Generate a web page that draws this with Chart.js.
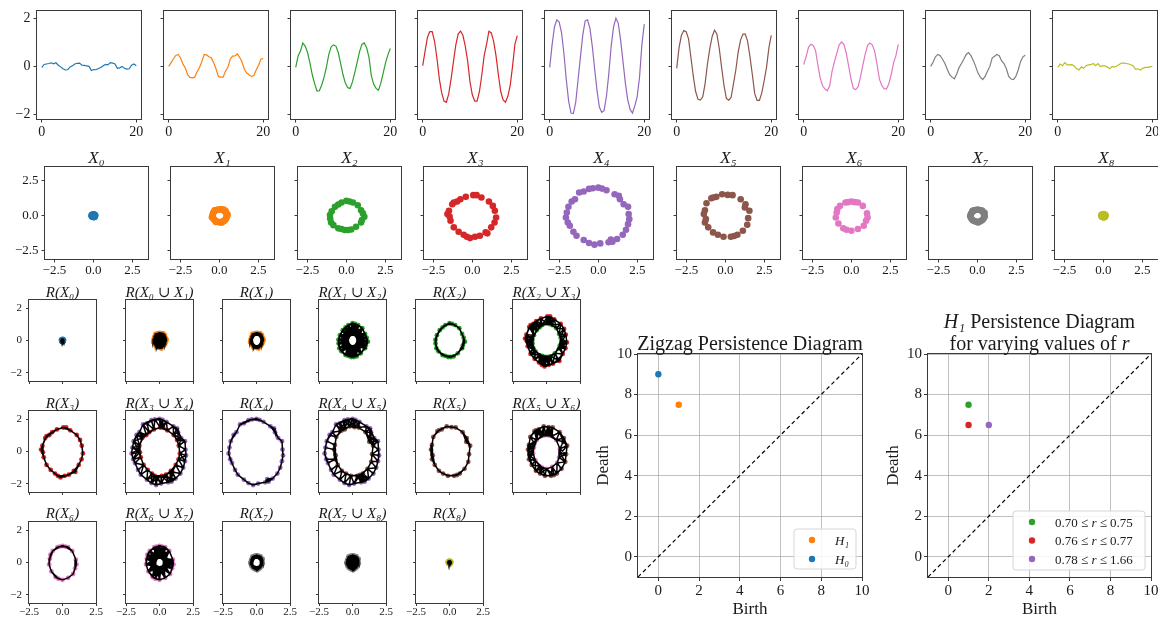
<!DOCTYPE html>
<html>
<head>
<meta charset="utf-8">
<script src="https://cdn.jsdelivr.net/npm/chart.js@4.4.1/dist/chart.umd.min.js"></script>
<style>
html, body { margin: 0; padding: 0; background: #fff; overflow: hidden; }
#fig { position: relative; width: 1158px; height: 621px; }
#fig canvas { position: absolute; }
</style>
</head>
<body>
<div id="fig"></div>
<script>
// ---- time series (top row) ----
const tGrid = [0, 0.5, 1, 1.5, 2, 2.5, 3, 3.5, 4, 4.5, 5, 5.5, 6, 6.5, 7, 7.5, 8, 8.5, 9, 9.5,
    10, 10.5, 11, 11.5, 12, 12.5, 13, 13.5, 14, 14.5, 15, 15.5, 16, 16.5, 17, 17.5, 18, 18.5, 19, 19.5, 20];
const signal0 = [-0.04, 0.08, 0.10, 0.12, 0.15, 0.11, 0.15, 0.05, -0.02, -0.10, -0.15, -0.14, -0.02, 0.03, 0.10, 0.13, 0.14, 0.05, 0.04, 0.02,
    0.00, -0.17, -0.13, -0.14, -0.09, -0.05, 0.03, 0.08, 0.06, 0.16, 0.14, 0.10, -0.08, -0.06, 0.00, -0.08, -0.11, -0.10, 0.05, 0.10, 0.03];
const signal1 = [0.00, 0.16, 0.32, 0.46, 0.50, 0.35, 0.10, -0.06, -0.35, -0.46, -0.48, -0.45, -0.22, -0.06, 0.20, 0.50, 0.48, 0.40, 0.36, 0.15,
    -0.10, -0.42, -0.45, -0.45, -0.20, -0.05, 0.30, 0.43, 0.44, 0.52, 0.38, 0.18, -0.12, -0.28, -0.35, -0.42, -0.38, -0.15, 0.05, 0.30, 0.33];
const signal2 = [-0.04, 0.44, 0.64, 0.98, 0.85, 0.58, 0.15, -0.35, -0.72, -1.03, -1.02, -0.78, -0.45, -0.02, 0.50, 0.82, 0.90, 0.85, 0.58, 0.12,
    -0.35, -0.70, -0.89, -0.92, -0.65, -0.25, 0.18, 0.62, 0.92, 0.98, 0.78, 0.38, -0.40, -0.75, -0.92, -1.00, -0.70, -0.28, 0.15, 0.48, 0.75];
const signal3 = [0.03, 0.64, 1.22, 1.45, 1.45, 1.05, 0.35, -0.50, -1.10, -1.45, -1.50, -1.15, -0.52, 0.20, 0.90, 1.35, 1.48, 1.30, 0.85, 0.23,
    -0.65, -1.20, -1.45, -1.45, -1.05, -0.35, 0.45, 0.92, 1.47, 1.40, 1.05, 0.45, -0.35, -1.05, -1.40, -1.50, -1.25, -0.80, 0.00, 0.92, 1.29];
const signal4 = [-0.04, 0.90, 1.65, 1.95, 1.85, 1.40, 0.55, -0.55, -1.45, -1.95, -1.97, -1.50, -0.55, 0.40, 1.33, 1.90, 1.95, 1.60, 0.85, -0.10,
    -1.00, -1.70, -1.92, -1.85, -1.25, -0.30, 0.85, 1.65, 2.01, 1.80, 1.10, 0.20, -0.70, -1.40, -1.80, -1.95, -1.65, -1.27, -0.45, 0.92, 1.77];
const signal5 = [-0.08, 0.80, 1.30, 1.50, 1.45, 1.15, 0.37, -0.40, -1.05, -1.38, -1.41, -1.27, -0.73, 0.10, 0.75, 1.25, 1.52, 1.35, 0.75, -0.05,
    -0.80, -1.34, -1.41, -1.30, -0.73, -0.15, 0.60, 1.10, 1.35, 1.35, 1.05, 0.40, -0.35, -1.14, -1.42, -1.42, -1.10, -0.60, -0.03, 0.78, 1.30];
const signal6 = [0.08, 0.40, 0.80, 0.93, 0.88, 0.67, 0.05, -0.50, -0.82, -0.95, -1.02, -0.80, -0.20, 0.20, 0.55, 0.90, 1.02, 0.92, 0.55, 0.02,
    -0.52, -0.93, -0.97, -0.85, -0.45, 0.05, 0.50, 0.88, 0.98, 0.90, 0.64, 0.10, -0.52, -0.80, -0.93, -0.95, -0.73, -0.35, 0.15, 0.45, 0.92];
const signal7 = [0.00, 0.18, 0.40, 0.50, 0.45, 0.30, 0.12, -0.12, -0.35, -0.45, -0.52, -0.32, -0.05, 0.12, 0.30, 0.50, 0.58, 0.45, 0.25, 0.00,
    -0.28, -0.45, -0.55, -0.42, -0.20, 0.00, 0.35, 0.42, 0.50, 0.45, 0.23, 0.12, -0.10, -0.42, -0.53, -0.55, -0.42, -0.15, 0.20, 0.40, 0.47];
const signal8 = [-0.04, 0.10, 0.03, 0.16, 0.06, 0.06, 0.07, 0.02, -0.10, -0.15, -0.02, -0.08, 0.03, 0.06, 0.07, 0.12, 0.03, 0.12, -0.01, 0.02,
    0.02, -0.03, -0.10, 0.00, -0.03, 0.02, 0.08, 0.14, 0.14, 0.12, 0.10, 0.07, 0.02, -0.12, -0.10, -0.15, -0.08, -0.04, -0.04, -0.02, 0.00];
const signals = [signal0, signal1, signal2, signal3, signal4, signal5, signal6, signal7, signal8];
const seriesTicksX = [0, 20];
const seriesTicksY = [-2, 0, 2];

// ---- point clouds X_0 .. X_8 ----
const cloud0 = [[0.00, 0.00], [0.08, 0.04], [-0.07, 0.05], [0.04, -0.08], [-0.05, -0.07], [0.10, -0.02], [-0.10, -0.01], [0.01, 0.10],
    [0.06, 0.08], [-0.06, 0.09], [0.08, -0.07], [-0.09, -0.06], [0.02, -0.11], [0.12, 0.03], [-0.12, 0.04], [0.03, 0.04], [-0.03, -0.03]];
const cloud1 = [[0.48, 0.02], [0.46, 0.12], [0.43, 0.22], [0.37, 0.30], [0.31, 0.36], [0.22, 0.42], [0.12, 0.46], [0.02, 0.47],
    [-0.08, 0.45], [-0.18, 0.42], [-0.27, 0.37], [-0.34, 0.30], [-0.39, 0.21], [-0.42, 0.12], [-0.44, 0.02], [-0.42, -0.08],
    [-0.40, -0.18], [-0.35, -0.27], [-0.28, -0.34], [-0.20, -0.40], [-0.10, -0.44], [0.00, -0.46], [0.10, -0.45], [0.20, -0.42],
    [0.29, -0.37], [0.36, -0.30], [0.42, -0.21], [0.46, -0.11], [0.50, -0.02], [0.52, 0.10], [0.40, 0.34], [-0.30, 0.40],
    [-0.48, -0.10], [0.15, -0.50], [0.28, 0.44], [-0.22, -0.45]];
const cloud2 = [[0.00, 1.07], [-0.52, 0.81], [-0.94, 0.33], [-1.04, -0.19], [-0.83, -0.67], [-0.52, -0.90], [-0.10, -1.02], [0.31, -0.98],
    [0.62, -0.79], [0.94, -0.48], [1.15, -0.07], [0.94, 0.40], [0.73, 0.76], [0.42, 0.95], [-0.73, 0.64], [-0.31, 0.95],
    [-0.98, -0.48], [1.06, 0.17], [0.10, -1.02], [-0.31, -0.95], [0.20, 1.02], [-1.05, 0.05], [1.00, -0.30]];
const cloud3 = [[0.06, 1.48], [-0.42, 1.36], [-0.77, 1.19], [-1.19, 0.95], [-1.50, 0.36], [-1.60, 0.12], [-1.40, -0.36], [-1.19, -0.83],
    [-0.88, -1.14], [-0.56, -1.36], [-0.15, -1.60], [0.17, -1.50], [0.48, -1.43], [0.85, -1.19], [1.21, -0.83], [1.42, -0.48],
    [1.52, -0.12], [1.44, 0.36], [1.31, 0.71], [1.06, 1.02], [0.58, 1.31], [0.27, 1.48], [-1.29, 0.83], [-0.98, 1.02],
    [-1.46, -0.05], [0.96, -1.26], [-0.35, -1.50]];
const cloud4 = [[0.00, 2.02], [-0.35, 1.98], [0.23, 1.95], [0.52, 1.83], [1.04, 1.55], [1.31, 1.43], [1.38, 1.19], [1.62, 0.83],
    [1.90, 0.64], [1.94, 0.12], [1.98, -0.24], [1.90, -0.60], [1.77, -1.00], [1.56, -1.36], [1.20, -1.67], [0.90, -1.86],
    [0.80, -1.70], [0.65, -1.90], [0.12, -1.98], [-0.25, -2.07], [-0.60, -1.95], [-0.94, -1.74], [-1.40, -1.43], [-1.60, -1.14],
    [-1.83, -0.71], [-1.96, -0.48], [-2.08, -0.12], [-2.02, 0.24], [-1.92, 0.64], [-1.71, 1.02], [-1.50, 1.19], [-1.23, 1.67],
    [-0.94, 1.74], [-0.60, 1.93]];
const cloud5 = [[-0.21, 1.55], [-0.58, 1.36], [-0.79, 1.31], [-0.90, 1.26], [-1.21, 0.90], [-1.31, 0.40], [-1.38, 0.12], [-1.25, -0.24],
    [-1.31, -0.48], [-1.10, -0.83], [-0.79, -1.19], [-0.48, -1.36], [-0.12, -1.50], [0.35, -1.50], [0.56, -1.45], [0.77, -1.36],
    [1.12, -1.07], [1.40, -0.64], [1.46, -0.17], [1.54, 0.36], [1.25, 0.60], [1.29, 0.83], [0.98, 1.19], [0.46, 1.48], [0.15, 1.50]];
const cloud6 = [[0.00, 1.02], [-0.21, 0.98], [0.21, 0.98], [-0.38, 0.95], [0.42, 0.95], [-0.73, 0.71], [0.73, 0.71], [-0.90, 0.48],
    [-0.94, 0.24], [1.00, 0.17], [-1.00, -0.12], [1.04, -0.12], [0.94, -0.36], [-0.83, -0.55], [0.79, -0.71], [-0.52, -0.90],
    [0.42, -0.95], [-0.31, -1.00], [0.00, -1.07]];
const cloud7 = [[0.44, 0.02], [0.42, 0.15], [0.36, 0.27], [0.26, 0.36], [0.14, 0.42], [0.01, 0.44], [-0.12, 0.42], [-0.24, 0.37],
    [-0.33, 0.28], [-0.40, 0.16], [-0.43, 0.03], [-0.42, -0.10], [-0.37, -0.23], [-0.28, -0.33], [-0.16, -0.40], [-0.03, -0.44],
    [0.10, -0.43], [0.22, -0.38], [0.32, -0.30], [0.40, -0.19], [0.47, -0.06], [0.46, 0.22], [-0.30, 0.36], [0.05, -0.48],
    [-0.46, -0.02], [0.30, 0.38]];
const cloud8 = [[0.00, 0.00], [0.09, 0.05], [-0.08, 0.06], [0.05, -0.09], [-0.06, -0.08], [0.12, -0.02], [-0.12, -0.01], [0.01, 0.12],
    [0.07, 0.10], [-0.07, 0.10], [0.10, -0.08], [-0.10, -0.07], [0.02, -0.13], [0.14, 0.04], [-0.14, 0.04], [0.04, 0.04], [-0.03, -0.04]];
const clouds = [cloud0, cloud1, cloud2, cloud3, cloud4, cloud5, cloud6, cloud7, cloud8];
const cloudTicks = [-2.5, 0, 2.5];
const ripsR = 0.7;
const ripsTicksX = [-2.5, 0, 2.5];
const ripsTicksY = [-2, 0, 2];

// ---- persistence diagrams ----
const zigzagBirth = [1, 0];
const zigzagDeath = [7.5, 9];
const zigzagLabels = ['H\u2081', 'H\u2080'];
const bandBirth = [1, 1, 2];
const bandDeath = [7.5, 6.5, 6.5];
const bandLow = [0.70, 0.76, 0.78];
const bandHigh = [0.75, 0.77, 1.66];
const diagRange = [-1, 10];
const diagTicks = [0, 2, 4, 6, 8, 10];

const palette = ['#1f77b4', '#ff7f0e', '#2ca02c', '#d62728', '#9467bd', '#8c564b', '#e377c2', '#7f7f7f', '#bcbd22'];
const SERIF = '"Liberation Serif", "DejaVu Serif", serif';
const INK = '#1a1a1a';
const EDGE = '#3a3a3a';
const fig = document.getElementById('fig');

function sub(d) { return String.fromCharCode(0x2080 + d); }
function fmt(v, dec) { return (v < 0 ? '\u2212' : '') + Math.abs(v).toFixed(dec); }

// Draw a line of text made of upright / italic runs:
function drawRuns(ctx, runs, x, y, size, align)
{
    const fontOf = function (it) { return (it ? 'italic ' : '') + size + 'px ' + SERIF; };
    let total = 0;
    runs.forEach(function (r) { ctx.font = fontOf(r[1]); total += ctx.measureText(r[0]).width; });
    let cx = align === 'left' ? x : x - total / 2;
    ctx.textAlign = 'left';
    ctx.textBaseline = 'alphabetic';
    ctx.fillStyle = INK;
    runs.forEach(function (r) {
        ctx.font = fontOf(r[1]);
        ctx.fillText(r[0], cx, y);
        cx += ctx.measureText(r[0]).width;
    });
}

// Frame, titles and in-axes legend:
const decoPlugin = {
    id: 'deco',
    afterDraw: function (chart)
    {
        const d = chart.canvas.deco || {};
        const ctx = chart.ctx, a = chart.chartArea;
        ctx.save();
        if (d.legend)
        {
            const lg = d.legend;
            const x0 = a.right - lg.dx - lg.w, y0 = a.bottom - lg.dy - lg.h, rr = 3;
            ctx.beginPath();
            ctx.moveTo(x0 + rr, y0);
            ctx.arcTo(x0 + lg.w, y0, x0 + lg.w, y0 + lg.h, rr);
            ctx.arcTo(x0 + lg.w, y0 + lg.h, x0, y0 + lg.h, rr);
            ctx.arcTo(x0, y0 + lg.h, x0, y0, rr);
            ctx.arcTo(x0, y0, x0 + lg.w, y0, rr);
            ctx.closePath();
            ctx.fillStyle = 'rgba(255,255,255,0.85)';
            ctx.fill();
            ctx.strokeStyle = '#d6d6d6';
            ctx.lineWidth = 1;
            ctx.stroke();
            lg.items.forEach(function (it, i) {
                const yy = y0 + lg.first + i * lg.step;
                ctx.beginPath();
                ctx.arc(x0 + lg.mx, yy, 3.2, 0, Math.PI * 2);
                ctx.fillStyle = it.color;
                ctx.fill();
                drawRuns(ctx, it.runs, x0 + lg.tx, yy + 4.5, lg.size, 'left');
            });
        }
        if (d.frame !== false)
        {
            ctx.strokeStyle = EDGE;
            ctx.lineWidth = 1;
            ctx.strokeRect(Math.round(a.left) - 0.5, Math.round(a.top) - 0.5,
                Math.round(a.right - a.left) + 1, Math.round(a.bottom - a.top) + 1);
        }
        (d.title || []).forEach(function (line) {
            drawRuns(ctx, line.runs, (a.left + a.right) / 2, a.top - line.dy, d.titleSize, 'center');
        });
        ctx.restore();
    }
};
Chart.register(decoPlugin);

function axis(pos, min, max, ticks, o)
{
    return {
        type: 'linear', position: pos, min: min, max: max,
        afterBuildTicks: function (s) { s.ticks = ticks.map(function (v) { return { value: v }; }); },
        afterFit: function (s) { if (pos === 'left') s.width = o.size; else s.height = o.size; },
        grid: { display: true, drawOnChartArea: !!o.grid, color: '#b0b0b0', lineWidth: 0.8,
            drawTicks: true, tickLength: o.tick || 3.5, tickColor: EDGE, tickWidth: 1 },
        border: { display: false },
        ticks: { autoSkip: false, maxRotation: 0, minRotation: 0, padding: o.pad, color: INK,
            font: { family: SERIF, size: o.font },
            callback: function (v) { return o.show ? fmt(v, o.dec) : ''; } },
        title: o.title ? { display: true, text: o.title, color: INK, font: { family: SERIF, size: 17 }, padding: 0 }
                       : { display: false }
    };
}

function makeChart(box, pad, datasets, scales, deco)
{
    const c = document.createElement('canvas');
    const W = box.w + pad.l + pad.r, H = box.h + pad.t + pad.b;
    c.width = W;
    c.height = H;
    c.style.left = (box.x - pad.l) + 'px';
    c.style.top = (box.y - pad.t) + 'px';
    c.style.width = W + 'px';
    c.style.height = H + 'px';
    c.deco = deco || {};
    fig.appendChild(c);
    return new Chart(c, {
        type: 'scatter',
        data: { datasets: datasets },
        options: {
            responsive: false, animation: false, events: [],
            layout: { padding: { left: 0, right: pad.r, top: pad.t, bottom: 0 } },
            scales: scales,
            plugins: { legend: { display: false }, tooltip: { enabled: false } }
        }
    });
}

function toPoints(cloud) { return cloud.map(function (p) { return { x: p[0], y: p[1] }; }); }

// Edges of the Rips complex at scale ripsR:
function ripsEdges(points, r)
{
    const out = [];
    for (let i = 0; i < points.length; i++)
    {
        for (let j = i + 1; j < points.length; j++)
        {
            const dx = points[i][0] - points[j][0], dy = points[i][1] - points[j][1];
            if (dx * dx + dy * dy <= r * r)
            {
                out.push({ x: points[i][0], y: points[i][1] }, { x: points[j][0], y: points[j][1] }, { x: points[j][0], y: null });
            }
        }
    }
    return out;
}

// Row 1: time series
signals.forEach(function (sig, i) {
    const box = { x: Math.round(36.5 + 127.1 * i), y: 11, w: 104, h: 108 };
    const data = tGrid.map(function (t, k) { return { x: t, y: sig[k] }; });
    makeChart(box, { l: 30, r: 8, t: 11, b: 22 },
        [{ data: data, showLine: true, borderColor: palette[i], borderWidth: 1.2, pointRadius: 0 }],
        {
            x: axis('bottom', -1, 21, seriesTicksX, { size: 22, font: 14, pad: 1, show: true, dec: 0 }),
            y: axis('left', -2.2, 2.3, seriesTicksY, { size: 30, font: 14, pad: 3, show: i === 0, dec: 0 })
        }, {});
});

// Row 2: point clouds
clouds.forEach(function (cloud, i) {
    const box = { x: Math.round(45 + 126.3 * i), y: 167, w: 103, h: 92 };
    makeChart(box, { l: 36, r: 12, t: 22, b: 22 },
        [{ data: toPoints(cloud), backgroundColor: palette[i], borderWidth: 0, pointRadius: 3.3 }],
        {
            x: axis('bottom', -3.1, 3.5, cloudTicks, { size: 22, font: 13, pad: 0, show: true, dec: 1 }),
            y: axis('left', -3.1, 3.5, cloudTicks, { size: 36, font: 13, pad: 3, show: i === 0, dec: 1 })
        },
        { title: [{ dy: 4, runs: [['X' + sub(i), true]] }], titleSize: 17 });
});

// Rows 3-5: Rips complexes R(X_i) and R(X_i ∪ X_i+1)
const ripsTops = [300, 411, 522];
for (let k = 0; k < 17; k++)
{
    const i = Math.floor(k / 2), union = k % 2 === 1;
    const row = Math.floor(k / 6), col = k % 6;
    const members = union ? [i, i + 1] : [i];
    const allPts = [].concat.apply([], members.map(function (m) { return clouds[m]; }));
    const datasets = [{ data: ripsEdges(allPts, ripsR), showLine: true, borderColor: '#000', borderWidth: 1.5,
        pointRadius: 0, order: 0 }];
    members.forEach(function (m) {
        datasets.push({ data: toPoints(clouds[m]), backgroundColor: palette[m], borderWidth: 0, pointRadius: 2.4, order: 1 });
    });
    const text = union ? 'R(X' + sub(i) + ' \u222A X' + sub(i + 1) + ')' : 'R(X' + sub(i) + ')';
    const box = { x: Math.round(29 + 96.8 * col), y: ripsTops[row], w: 67, h: 81 };
    makeChart(box, { l: 24, r: 11, t: 18, b: 18 }, datasets,
        {
            x: axis('bottom', -2.5, 2.5, ripsTicksX, { size: 18, font: 11, pad: 0, tick: 3, show: row === 2, dec: 1 }),
            y: axis('left', -2.5, 2.5, ripsTicksY, { size: 24, font: 11, pad: 4, tick: 3, show: col === 0, dec: 0 })
        },
        { title: [{ dy: row === 2 ? 4 : 3, runs: [[text, true]] }], titleSize: 15 });
}

// Persistence diagrams
function diagonal()
{
    return { data: diagRange.map(function (v) { return { x: v, y: v }; }), showLine: true, borderColor: '#000',
        borderWidth: 1.2, borderDash: [4, 3], pointRadius: 0, order: 2 };
}
function diagScales()
{
    return {
        x: axis('bottom', diagRange[0], diagRange[1], diagTicks, { size: 43, font: 15, pad: 1, tick: 4, show: true, dec: 0, grid: true, title: 'Birth' }),
        y: axis('left', diagRange[0], diagRange[1], diagTicks, { size: 45, font: 15, pad: 2, tick: 4, show: true, dec: 0, grid: true, title: 'Death' })
    };
}

const zzColors = [palette[1], palette[0]];
const zzSets = zigzagBirth.map(function (b, j) {
    return { label: zigzagLabels[j], data: [{ x: b, y: zigzagDeath[j] }], backgroundColor: zzColors[j],
        borderWidth: 0, pointRadius: 3.2, order: 1 };
});
zzSets.push(diagonal());
makeChart({ x: 638, y: 354, w: 224, h: 223 }, { l: 45, r: 14, t: 50, b: 43 }, zzSets, diagScales(), {
    title: [{ dy: 4, runs: [['Zigzag Persistence Diagram', false]] }], titleSize: 20,
    legend: { dx: 6, dy: 8, w: 62, h: 40, first: 11, step: 19, mx: 18, tx: 41, size: 13,
        items: zigzagLabels.map(function (l, j) { return { color: zzColors[j], runs: [[l, true]] }; }) }
});

const bandColors = [palette[2], palette[3], palette[4]];
const bandSets = bandBirth.map(function (b, j) {
    return { label: fmt(bandLow[j], 2) + ' \u2264 r \u2264 ' + fmt(bandHigh[j], 2), data: [{ x: b, y: bandDeath[j] }],
        backgroundColor: bandColors[j], borderWidth: 0, pointRadius: 3.2, order: 1 };
});
bandSets.push(diagonal());
makeChart({ x: 928, y: 354, w: 223, h: 223 }, { l: 45, r: 14, t: 50, b: 43 }, bandSets, diagScales(), {
    title: [{ dy: 26, runs: [['H' + sub(1), true], [' Persistence Diagram', false]] },
            { dy: 4, runs: [['for varying values of ', false], ['r', true]] }], titleSize: 20,
    legend: { dx: 6, dy: 7, w: 132, h: 59, first: 11, step: 18.5, mx: 19, tx: 42, size: 13,
        items: bandLow.map(function (lo, j) {
            return { color: bandColors[j], runs: [[fmt(lo, 2) + ' \u2264 ', false], ['r', true], [' \u2264 ' + fmt(bandHigh[j], 2), false]] };
        }) }
});
</script>
</body>
</html>
